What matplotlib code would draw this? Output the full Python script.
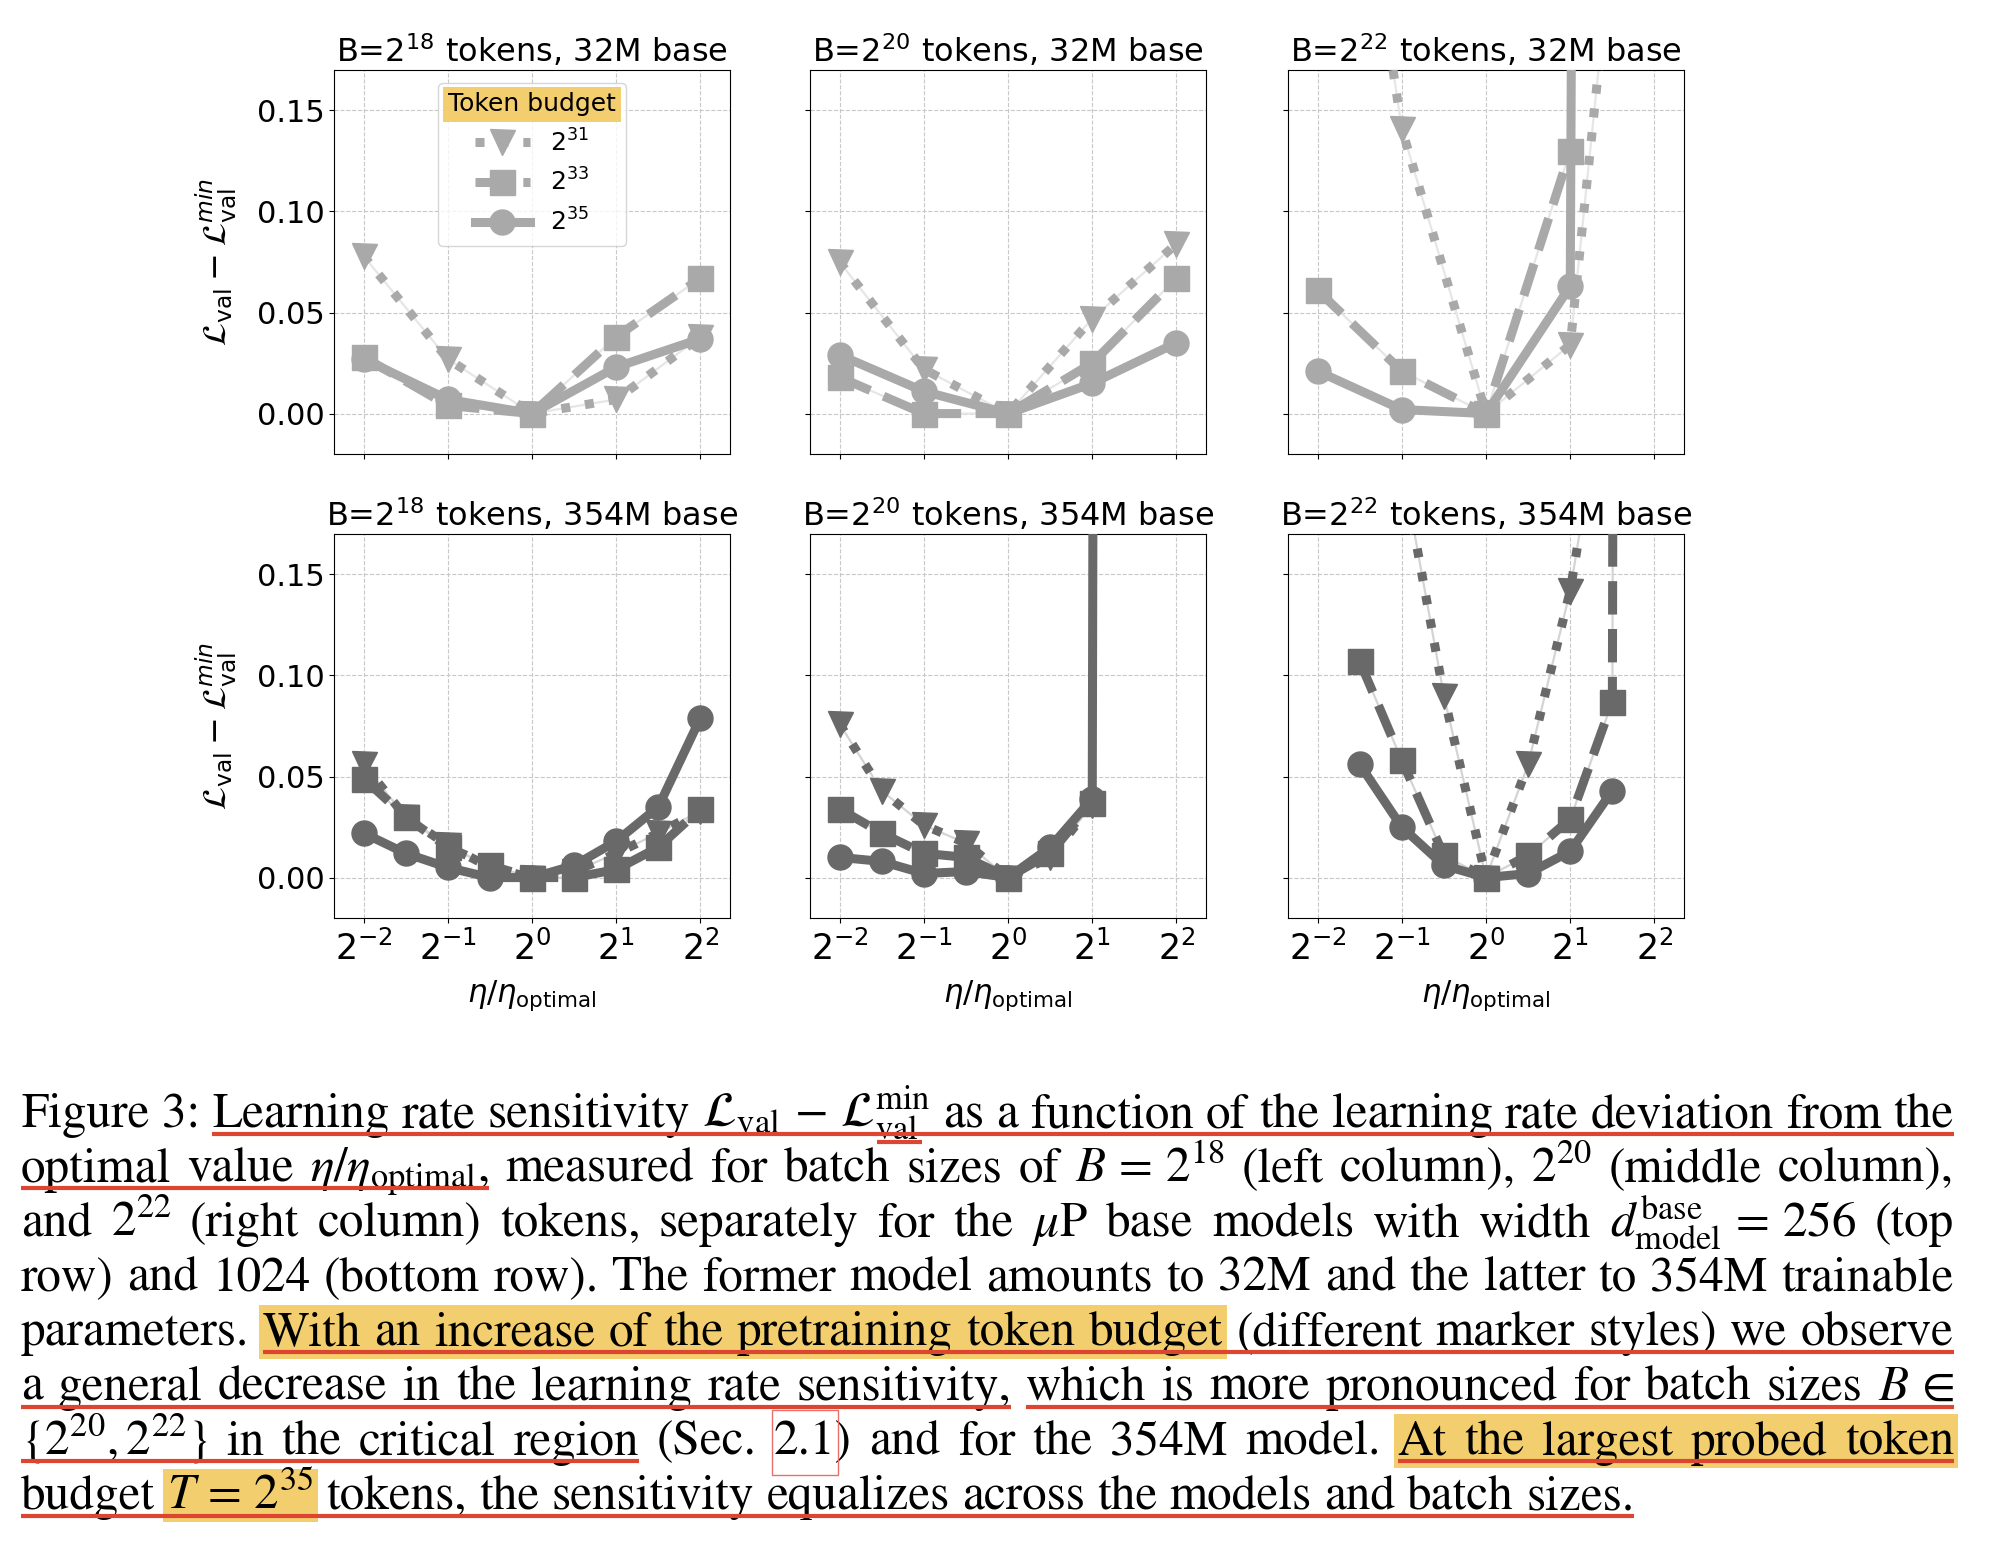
import re
import numpy as np
import matplotlib
matplotlib.use('Agg')
import matplotlib.pyplot as plt
from matplotlib.lines import Line2D
from matplotlib.patches import Rectangle

nan = np.nan

# log2(eta / eta_optimal) probed in each row
lr_top = [-2, -1, 0, 1, 2]
lr_bot = [-2, -1.5, -1, -0.5, 0, 0.5, 1, 1.5, 2]
lr_ticks = [-2, -1, 0, 1, 2]

budget_labels = ['$2^{31}$', '$2^{33}$', '$2^{35}$']

# 32M base model
b18_32m_t31 = [0.078, 0.027, 0.0, 0.007, 0.038]
b18_32m_t33 = [0.028, 0.004, 0.0, 0.038, 0.067]
b18_32m_t35 = [0.027, 0.007, 0.0, 0.023, 0.037]

b20_32m_t31 = [0.075, 0.022, 0.0, 0.047, 0.084]
b20_32m_t33 = [0.018, 0.0, 0.0, 0.025, 0.067]
b20_32m_t35 = [0.029, 0.011, 0.0, 0.015, 0.035]

b22_32m_t31 = [0.42, 0.141, 0.0, 0.034, 0.44]
b22_32m_t33 = [0.061, 0.021, 0.0, 0.130, nan]
b22_32m_t35 = [0.021, 0.002, 0.0, 0.063, 9.0]

# 354M base model
b18_354m_t31 = [0.056, 0.030, 0.016, 0.005, 0.0, 0.003, 0.012, 0.022, 0.033]
b18_354m_t33 = [0.049, 0.030, 0.015, 0.006, 0.0, 0.0, 0.004, 0.015, 0.034]
b18_354m_t35 = [0.022, 0.012, 0.005, 0.0, 0.0, 0.006, 0.018, 0.035, 0.079]

b20_354m_t31 = [0.076, 0.043, 0.026, 0.017, 0.0, 0.010, 0.036, nan, nan]
b20_354m_t33 = [0.034, 0.022, 0.012, 0.010, 0.0, 0.012, 0.037, nan, nan]
b20_354m_t35 = [0.010, 0.008, 0.002, 0.003, 0.0, 0.015, 0.039, 9.0, nan]

b22_354m_t31 = [nan, 0.35, 0.205, 0.090, 0.0, 0.056, 0.142, 0.27, nan]
b22_354m_t33 = [nan, 0.107, 0.058, 0.011, 0.0, 0.011, 0.029, 0.087, 9.0]
b22_354m_t35 = [nan, 0.056, 0.025, 0.006, 0.0, 0.002, 0.013, 0.043, nan]

titles = ['B=$2^{18}$ tokens, 32M base', 'B=$2^{20}$ tokens, 32M base', 'B=$2^{22}$ tokens, 32M base',
          'B=$2^{18}$ tokens, 354M base', 'B=$2^{20}$ tokens, 354M base', 'B=$2^{22}$ tokens, 354M base']

cap_lines = [
    r"Figure 3: Learning rate sensitivity $\mathcal{L}_{\mathrm{val}}\,-\,\mathcal{L}_{\mathrm{val}}^{\mathrm{min}}$ as a function of the learning rate deviation from the",
    r"optimal value $\eta/\eta_{\mathrm{optimal}}$, measured for batch sizes of $B\,=\,2^{18}$ (left column), $2^{20}$ (middle column),",
    r"and $2^{22}$ (right column) tokens, separately for the $\mu$P base models with width $d_{\mathrm{model}}^{\mathrm{base}}\,=\,256$ (top",
    r"row) and 1024 (bottom row). The former model amounts to 32M and the latter to 354M trainable",
    r"parameters. With an increase of the pretraining token budget (different marker styles) we observe",
    r"a general decrease in the learning rate sensitivity, which is more pronounced for batch sizes $B\,\in$",
    r"$\{2^{20},2^{22}\}$ in the critical region (Sec. 2.1) and for the 354M model. At the largest probed token",
    r"budget $T\,=\,2^{35}$ tokens, the sensitivity equalizes across the models and batch sizes.",
]
# (line, first word, last word)
cap_highlight = [(4, 1, 8), (6, 12, 16), (7, 1, 1)]
cap_underline = [(0, 2, -1), (1, 0, 2), (4, 1, -1), (5, 0, 7), (5, 8, -1),
                 (6, 0, 4), (6, 12, -1), (7, 0, -1)]

panels = [
    (lr_top, [b18_32m_t31, b18_32m_t33, b18_32m_t35]),
    (lr_top, [b20_32m_t31, b20_32m_t33, b20_32m_t35]),
    (lr_top, [b22_32m_t31, b22_32m_t33, b22_32m_t35]),
    (lr_bot, [b18_354m_t31, b18_354m_t33, b18_354m_t35]),
    (lr_bot, [b20_354m_t31, b20_354m_t33, b20_354m_t35]),
    (lr_bot, [b22_354m_t31, b22_354m_t33, b22_354m_t35]),
]

W, H = 1992, 1548
fig = plt.figure(figsize=(W / 100, H / 100), dpi=100)

col_left = [334, 810, 1288]
row_top = [70, 534]
ax_w, ax_h = 396, 384

markers = ['v', 's', 'o']
styles = [':', '--', '-']
legend_handles = []

for k, (lr, series) in enumerate(panels):
    r, c = divmod(k, 3)
    ax = fig.add_axes([col_left[c] / W, 1 - (row_top[r] + ax_h) / H, ax_w / W, ax_h / H])
    color = '#a9a9a9' if r == 0 else '#696969'
    thin = '#e6e6e6' if r == 0 else '#d4d4d4'
    x = 2.0 ** np.array(lr)
    for j, y in enumerate(series):
        ax.plot(x, y, color=thin, lw=1.6, zorder=2)
        h, = ax.plot(x, y, ls=styles[j], marker=markers[j], color=color, lw=6.5, ms=18, zorder=3 + j)
        if k == 0:
            legend_handles.append(h)
    ax.set_xscale('log', base=2)
    ax.set_xticks(2.0 ** np.array(lr_ticks))
    ax.set_xlim(0.196, 5.1)
    ax.set_ylim(-0.02, 0.17)
    ax.set_yticks([0.0, 0.05, 0.10, 0.15])
    ax.grid(True, ls='--', lw=0.8, color='#c8c8c8')
    ax.set_axisbelow(True)
    ax.tick_params(axis='y', labelsize=22)
    ax.tick_params(axis='x', labelsize=25, pad=6)
    ax.set_title(titles[k], fontsize=23)
    if c == 0:
        ax.set_ylabel(r'$\mathcal{L}_{\rm val} - \mathcal{L}_{\rm val}^{min}$', fontsize=24, labelpad=13)
    else:
        ax.tick_params(labelleft=False)
    if r == 0:
        ax.tick_params(labelbottom=False)
    else:
        ax.set_xlabel(r'$\eta/\eta_{\rm optimal}$', fontsize=22, labelpad=8)
    if k == 0:
        leg = ax.legend(legend_handles, budget_labels, title='Token budget', loc='upper center',
                        fontsize=18, title_fontsize=18, handlelength=2.2)
        leg.get_title().set_bbox(dict(facecolor='#f3ce6e', edgecolor='none', pad=4))

# caption
renderer = fig.canvas.get_renderer()
cap_x0, cap_x1 = 21, 1954
cap_base0, cap_step = 1127, 54.6
last_right = 1632
yellow = '#f3ce6e'
red = '#dc4530'


def tokenize(line):
    return re.findall(r'(?:\$[^$]*\$|[^\s$])+', line)


def make_text(x, y, s, fs):
    return fig.text(x / W, 1 - y / H, s, fontsize=fs, family='STIXGeneral',
                    math_fontfamily='stix', ha='left', va='baseline', zorder=3)


def widths(tokens, fs):
    out = []
    for tok in tokens:
        t = make_text(0, 500, tok, fs)
        out.append(t.get_window_extent(renderer).width)
        t.remove()
    return out


cap_fs = 33.0
toks = tokenize(cap_lines[-1])
ws = widths(toks, cap_fs)
nat = sum(ws) + 0.25 * cap_fs * 100 / 72 * (len(toks) - 1)
cap_fs = cap_fs * (last_right - cap_x0) / nat
fs_px = cap_fs * 100 / 72

positions = []
for i, line in enumerate(cap_lines):
    toks = tokenize(line)
    ws = widths(toks, cap_fs)
    base = cap_base0 + i * cap_step
    if i < len(cap_lines) - 1:
        gap = (cap_x1 - cap_x0 - sum(ws)) / (len(toks) - 1)
    else:
        gap = 0.25 * fs_px
    xs = []
    xx = cap_x0
    for tok, w in zip(toks, ws):
        xs.append(xx)
        make_text(xx, base, tok, cap_fs)
        xx += w + gap
    positions.append((toks, xs, ws, base))


def hline(x0, x1, y, color, lw):
    fig.add_artist(Line2D([x0 / W, x1 / W], [1 - y / H, 1 - y / H], transform=fig.transFigure,
                          color=color, lw=lw, solid_capstyle='butt', zorder=4))


for i, a, b in cap_highlight:
    toks, xs, ws, base = positions[i]
    b = b % len(toks)
    x0 = xs[a] - 0.08 * fs_px
    x1 = xs[b] + ws[b] + 0.08 * fs_px
    top, bot = base - 0.82 * fs_px, base + 0.27 * fs_px
    fig.add_artist(Rectangle((x0 / W, 1 - bot / H), (x1 - x0) / W, (bot - top) / H,
                             transform=fig.transFigure, facecolor=yellow, edgecolor='none', zorder=1))

for i, a, b in cap_underline:
    toks, xs, ws, base = positions[i]
    b = b % len(toks)
    hline(xs[a], xs[b] + ws[b], base + 0.14 * fs_px, red, 3)

# subscript of the min term sits below the underline
toks, xs, ws, base = positions[0]
right = xs[5] + ws[5]
hline(right - 1.1 * fs_px, right - 0.18 * fs_px, base + 0.30 * fs_px, red, 3)

# link box around the section number
toks, xs, ws, base = positions[6]
w21 = widths(['2.1'], cap_fs)[0]
x0 = xs[6] - 0.04 * fs_px
x1 = xs[6] + w21 + 0.06 * fs_px
top, bot = base - 0.9 * fs_px, base + 0.42 * fs_px
fig.add_artist(Rectangle((x0 / W, 1 - bot / H), (x1 - x0) / W, (bot - top) / H,
                         transform=fig.transFigure, facecolor='none', edgecolor='#e8706a', lw=1, zorder=4))

fig.savefig('out.png', dpi=100)
